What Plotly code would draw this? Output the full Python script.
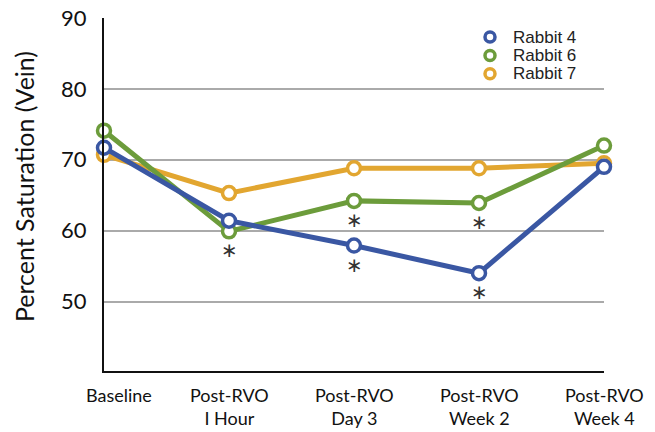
import plotly.graph_objects as go

# Time points and venous saturation readings per animal
timepoints = ["Baseline", "Post-RVO<br>I Hour", "Post-RVO<br>Day 3",
              "Post-RVO<br>Week 2", "Post-RVO<br>Week 4"]
rabbit4 = [71.7, 61.4, 57.9, 54.0, 69.0]
rabbit6 = [74.1, 59.9, 64.2, 63.9, 72.0]
rabbit7 = [70.7, 65.3, 68.8, 68.8, 69.5]

# Time points flagged as significant for each animal
sig_rabbit4 = [2, 3]
sig_rabbit6 = [1, 2, 3]

y_ticks = [50, 60, 70, 80, 90]

series_names = ["Rabbit 4", "Rabbit 6", "Rabbit 7"]
colors = {"Rabbit 4": "#3A57A3", "Rabbit 6": "#6C9C3B", "Rabbit 7": "#E2A630"}

x_idx = list(range(len(timepoints)))

fig = go.Figure()

# Draw order: 7 under 6 under 4
for name, vals in [("Rabbit 7", rabbit7), ("Rabbit 6", rabbit6), ("Rabbit 4", rabbit4)]:
    fig.add_trace(go.Scatter(
        x=x_idx, y=vals, mode="lines+markers", name=name, showlegend=False,
        line=dict(color=colors[name], width=5),
        marker=dict(symbol="circle", size=13, color="white",
                    line=dict(color=colors[name], width=3.5)),
        cliponaxis=False,
    ))

annotations = []
shapes = []

# Asterisks under significant readings
for vals, idxs in [(rabbit4, sig_rabbit4), (rabbit6, sig_rabbit6)]:
    for i in idxs:
        annotations.append(dict(
            x=i, y=vals[i], xref="x", yref="y", text="∗", showarrow=False,
            font=dict(family="DejaVu Sans", size=20, color="#333333"),
            yshift=-19,
        ))

# Category labels under the axis (first one nudged right of its tick)
for i, lab in enumerate(timepoints):
    annotations.append(dict(
        x=i, xref="x", y=0, yref="paper", xanchor="center", yanchor="top",
        text=lab, showarrow=False, yshift=-11, xshift=15 if i == 0 else 0,
        font=dict(family="Lato", size=18, color="#111111"),
    ))

# Compact legend: ring symbol + label per series
legend_top = 0.946
legend_step = 0.052
for k, name in enumerate(series_names):
    yk = legend_top - k * legend_step
    shapes.append(dict(
        type="circle", xref="paper", yref="paper",
        xsizemode="pixel", ysizemode="pixel",
        xanchor=0.772, yanchor=yk, x0=-5, x1=5, y0=-5, y1=5,
        line=dict(color=colors[name], width=3.5), fillcolor="white",
    ))
    annotations.append(dict(
        x=0.814, y=yk, xref="paper", yref="paper", xanchor="left", yanchor="middle",
        text=name, showarrow=False,
        font=dict(family="Liberation Sans", size=17, color="#222222"),
    ))

annotations.append(dict(
    x=0, xref="paper", xanchor="center", xshift=-80,
    y=0.521, yref="paper", yanchor="middle",
    text="Percent Saturation (Vein)", textangle=-90, showarrow=False,
    font=dict(family="Lato", size=25, color="#111111"),
))

fig.update_layout(
    width=655, height=432,
    margin=dict(l=104, r=51, t=18, b=61),
    plot_bgcolor="white", paper_bgcolor="white",
    showlegend=False,
    annotations=annotations,
    shapes=shapes,
    xaxis=dict(
        range=[0, 4], tickmode="array", tickvals=x_idx, showticklabels=False,
        showgrid=False, zeroline=False, automargin=False,
        showline=True, linecolor="#111111", linewidth=2, ticks="",
    ),
    yaxis=dict(
        range=[40.2, 90], tickmode="array", tickvals=y_ticks,
        showgrid=True, gridcolor="#AAAAAA", gridwidth=1.5, zeroline=False,
        automargin=False,
        showline=True, linecolor="#111111", linewidth=2,
        ticks="", ticklabelstandoff=11,
        tickfont=dict(family="Lato", size=22, color="#111111"),
    ),
)

fig.write_html("out.html")
